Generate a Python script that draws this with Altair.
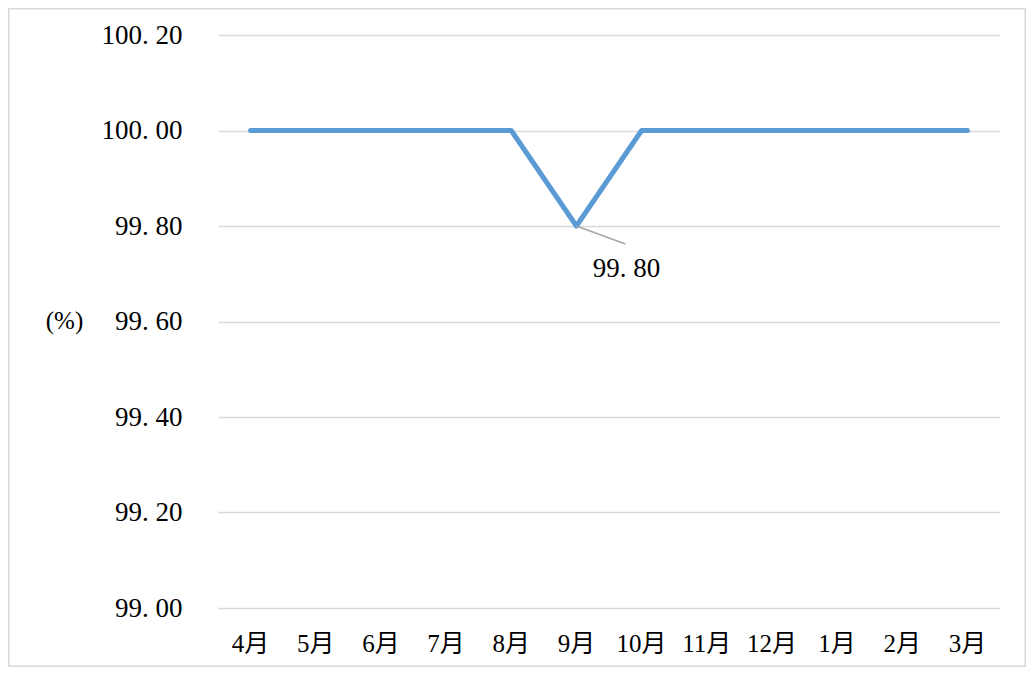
import altair as alt
import pandas as pd

months = ["4月", "5月", "6月", "7月", "8月", "9月", "10月", "11月", "12月", "1月", "2月", "3月"]
values = [100.00, 100.00, 100.00, 100.00, 100.00, 99.80, 100.00, 100.00, 100.00, 100.00, 100.00, 100.00]
y_ticks = [99.00, 99.20, 99.40, 99.60, 99.80, 100.00, 100.20]
annot_month = ["9月"]
annot_value = [99.80]

FONT = "Liberation Serif, Noto Sans CJK SC, serif"
FS = 27

df = pd.DataFrame({"month": months, "value": values})
ann = pd.DataFrame({"month": annot_month, "value": annot_value,
                    "label": [f"{v:.2f}".replace(".", ". ") for v in annot_value]})

x_enc = alt.X("month:N", sort=months, title=None,
              scale=alt.Scale(paddingInner=0, paddingOuter=0),
              axis=alt.Axis(labelAngle=0, ticks=False, domain=False, grid=False,
                            labelPadding=23, labelFont=FONT, labelFontSize=FS - 2,
                            labelColor="#000000"))
y_scale = alt.Scale(domain=[99.0, 100.2], nice=False, zero=False)
y_enc = alt.Y("value:Q", scale=y_scale, title="(%)",
              axis=alt.Axis(values=y_ticks, labelExpr="replace(format(datum.value, '.2f'), '.', '. ')",
                            ticks=False, domain=False, grid=True, gridColor="#d9d9d9",
                            gridWidth=1.5, labelPadding=36, labelFont=FONT,
                            labelFontSize=FS, labelColor="#000000",
                            titleAngle=0, titleFont=FONT, titleFontSize=FS - 2,
                            titleFontWeight="normal", titleColor="#000000",
                            titleX=-154, titleY=285, titleAlign="center",
                            titleBaseline="middle"))

frame = alt.Chart(pd.DataFrame({"k": [0]})).mark_rect(
    fill=None, stroke="#d9d9d9", strokeWidth=1.5
).encode(x=alt.value(-209.25), x2=alt.value(807.25), y=alt.value(-26.25), y2=alt.value(631.25))

line = alt.Chart(df).mark_line(color="#5b9bd5", strokeWidth=5, strokeCap="round",
                               strokeJoin="round").encode(x=x_enc, y=y_enc)

leader = alt.Chart(ann).mark_rule(color="#a6a6a6", strokeWidth=1.5,
                                  x2Offset=49, y2Offset=18).encode(
    x=alt.X("month:N", sort=months), x2="month:N",
    y="value:Q", y2="value:Q")

label = alt.Chart(ann).mark_text(font=FONT, fontSize=FS, color="#000000",
                                 dx=50, dy=43, align="center", baseline="middle").encode(
    x=alt.X("month:N", sort=months), y="value:Q", text="label:N")

chart = alt.layer(frame, line, leader, label).properties(
    width=782, height=573,
    autosize=alt.AutoSizeParams(type="none"),
    padding={"left": 210, "top": 27, "right": 26, "bottom": 59},
    background="#ffffff"
).configure_view(stroke=None)

chart.save("out.html", embed_options={"renderer": "svg", "actions": False})
